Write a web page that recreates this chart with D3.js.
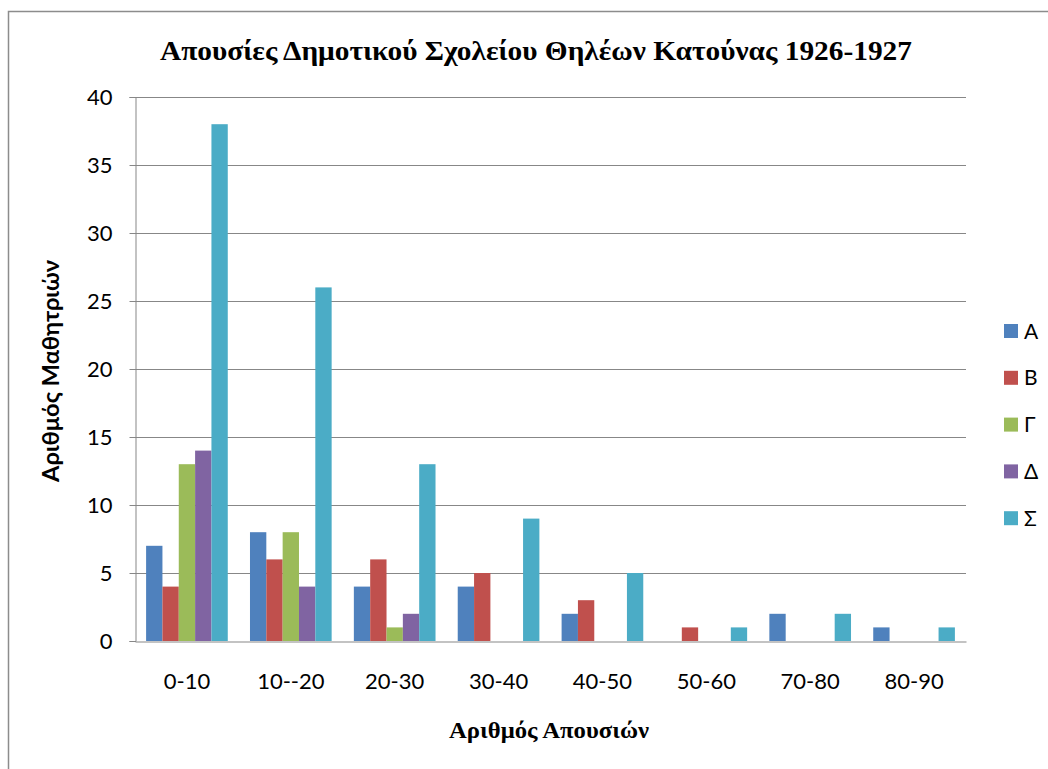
<!DOCTYPE html>
<html>
<head>
<meta charset="utf-8">
<script src="https://cdn.jsdelivr.net/npm/d3@7"></script>
<style>
  html, body { margin: 0; padding: 0; background: #fff; }
  svg { display: block; }
</style>
</head>
<body>
<svg id="chart" width="1048" height="769"></svg>
<script>
const categories = ["0-10", "10--20", "20-30", "30-40", "40-50", "50-60", "70-80", "80-90"];
const seriesNames = ["Α", "Β", "Γ", "Δ", "Σ"];
const valuesA = [7, 8, 4, 4, 2, 0, 2, 1];
const valuesB = [4, 6, 6, 5, 3, 1, 0, 0];
const valuesG = [13, 8, 1, 0, 0, 0, 0, 0];
const valuesD = [14, 4, 2, 0, 0, 0, 0, 0];
const valuesS = [38, 26, 13, 9, 5, 1, 2, 1];
const yTicks = [0, 5, 10, 15, 20, 25, 30, 35, 40];
const colors = ["#4F81BD", "#C0504D", "#9BBB59", "#8064A2", "#4BACC6"];
const titleText = "Απουσίες Δημοτικού Σχολείου Θηλέων  Κατούνας 1926-1927";
const xTitle = "Αριθμός Απουσιών";
const yTitle = "Αριθμός Μαθητριών";

const seriesValues = [valuesA, valuesB, valuesG, valuesD, valuesS];

const svg = d3.select("#chart");
const m = { left: 135, right: 966, top: 97, bottom: 641 };

// outer chart border (extends past right/bottom edges)
svg.append("rect")
  .attr("x", 8.5).attr("y", 11.5)
  .attr("width", 1100).attr("height", 800)
  .attr("fill", "none").attr("stroke", "#8c8c8c").attr("stroke-width", 1.5);

const x0 = d3.scaleBand().domain(categories).range([m.left, m.right]).paddingInner(0).paddingOuter(0);
const bw = x0.bandwidth();
const x1 = d3.scaleBand().domain(seriesNames).range([0, bw]).paddingInner(0).paddingOuter(0.68);
const y = d3.scaleLinear().domain([0, 40]).range([m.bottom, m.top]);

// gridlines
svg.append("g").selectAll("line").data(yTicks.filter(d => d > 0)).join("line")
  .attr("x1", m.left).attr("x2", m.right)
  .attr("y1", d => Math.round(y(d)) + 0.5).attr("y2", d => Math.round(y(d)) + 0.5)
  .attr("stroke", "#878787").attr("stroke-width", 1);

// bars
const groups = svg.append("g").selectAll("g").data(categories).join("g")
  .attr("transform", d => `translate(${x0(d)},0)`);
groups.selectAll("rect")
  .data((c, i) => seriesNames.map((s, j) => ({ s, j, v: seriesValues[j][i] })))
  .join("rect")
  .attr("x", d => x1(d.s))
  .attr("width", x1.bandwidth())
  .attr("y", d => y(d.v))
  .attr("height", d => y(0) - y(d.v))
  .attr("fill", d => colors[d.j]);

// y axis
const yAxis = d3.axisLeft(y).tickValues(yTicks).tickSize(6).tickPadding(17);
const gy = svg.append("g").attr("transform", `translate(${m.left + 0.5},0)`).call(yAxis);
gy.select(".domain").attr("stroke", "#878787");
gy.selectAll(".tick line").attr("stroke", "#878787");
gy.selectAll(".tick text").attr("font-family", "Lato, 'Open Sans', sans-serif")
  .attr("font-size", 22).attr("fill", "#000");

// x axis
const xAxis = d3.axisBottom(x0).tickSize(0).tickPadding(32);
const gx = svg.append("g").attr("transform", `translate(0,${m.bottom + 0.5})`).call(xAxis);
gx.select(".domain").attr("stroke", "#878787");
gx.selectAll(".tick text").attr("font-family", "Lato, 'Open Sans', sans-serif")
  .attr("font-size", 22).attr("fill", "#000");

// title
svg.append("text")
  .attr("x", 536).attr("y", 60)
  .attr("text-anchor", "middle")
  .attr("font-family", "'Liberation Serif', 'Times New Roman', serif")
  .attr("font-weight", "bold").attr("font-size", 27)
  .attr("textLength", 752).attr("lengthAdjust", "spacingAndGlyphs")
  .text(titleText);

// x title
svg.append("text")
  .attr("x", 549).attr("y", 738)
  .attr("text-anchor", "middle")
  .attr("font-family", "'Liberation Serif', 'Times New Roman', serif")
  .attr("font-weight", "bold").attr("font-size", 23)
  .attr("textLength", 200).attr("lengthAdjust", "spacingAndGlyphs")
  .text(xTitle);

// y title
svg.append("text")
  .attr("transform", `translate(59,${(m.top + m.bottom) / 2 + 2}) rotate(-90)`)
  .attr("text-anchor", "middle")
  .attr("font-family", "Lato, 'Open Sans', sans-serif")
  .attr("font-weight", "bold").attr("font-size", 22)
  .attr("textLength", 222).attr("lengthAdjust", "spacingAndGlyphs")
  .text(yTitle);

// legend
const leg = svg.append("g").selectAll("g").data(seriesNames).join("g")
  .attr("transform", (d, i) => `translate(1004,${331 + i * 46.8})`);
leg.append("rect").attr("x", 0).attr("y", -7).attr("width", 14).attr("height", 14)
  .attr("fill", (d, i) => colors[i]);
leg.append("text").attr("x", 20).attr("y", 7.5)
  .attr("font-family", "Lato, 'Open Sans', sans-serif")
  .attr("font-size", 21).attr("fill", "#000")
  .text(d => d);
</script>
</body>
</html>
